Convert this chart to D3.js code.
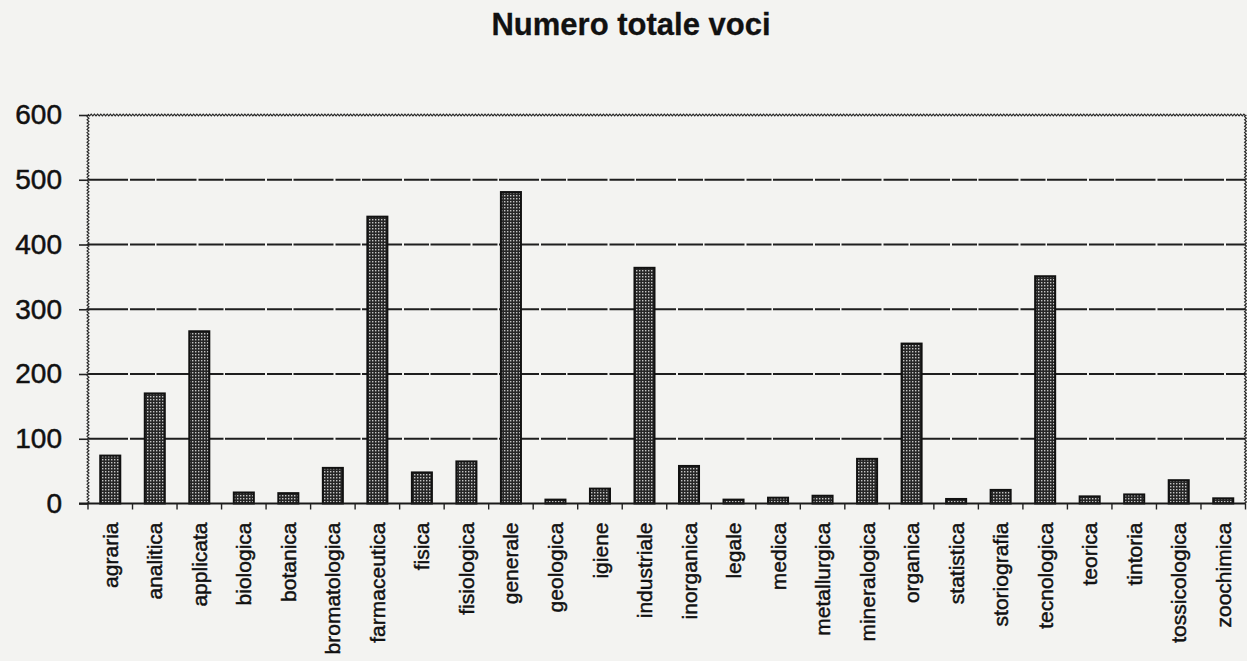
<!DOCTYPE html>
<html>
<head>
<meta charset="utf-8">
<script src="https://cdn.jsdelivr.net/npm/d3@7"></script>
<style>
  html, body { margin: 0; padding: 0; background: #f3f3f1; }
  svg { display: block; }
  text { font-family: "Liberation Sans", Arial, Helvetica, sans-serif; fill: #111; }
</style>
</head>
<body>
<svg id="chart" width="1247" height="661"></svg>
<script>
// Voci per disciplina
const categories = [
  "agraria", "analitica", "applicata", "biologica", "botanica", "bromatologica",
  "farmaceutica", "fisica", "fisiologica", "generale", "geologica", "igiene",
  "industriale", "inorganica", "legale", "medica", "metallurgica", "mineralogica",
  "organica", "statistica", "storiografia", "tecnologica", "teorica", "tintoria",
  "tossicologica", "zoochimica"
];
const values = [
  74, 170, 266, 17, 16, 55,
  443, 48, 65, 481, 6, 23,
  364, 58, 6, 9, 12, 69,
  247, 7, 21, 351, 11, 14,
  36, 8
];
const yTicks = [0, 100, 200, 300, 400, 500, 600];
const title = "Numero totale voci";

const svg = d3.select("#chart");
const plot = { left: 88, right: 1245.5, top: 115, bottom: 503.5 };

// stippled fill for the bars
const defs = svg.append("defs");
const pat = defs.append("pattern")
  .attr("id", "stipple")
  .attr("patternUnits", "userSpaceOnUse")
  .attr("width", 3).attr("height", 3);
pat.append("rect").attr("width", 3).attr("height", 3).attr("fill", "#262626");
pat.append("rect").attr("x", 0).attr("y", 0).attr("width", 1.4).attr("height", 1.4).attr("fill", "#c4c4c4");

const x = d3.scaleBand()
  .domain(categories)
  .range([plot.left, plot.right])
  .paddingInner(0.55)
  .paddingOuter(0.275);

const y = d3.scaleLinear()
  .domain([0, 600])
  .range([plot.bottom, plot.top]);

// title
svg.append("text")
  .attr("x", 631).attr("y", 35)
  .attr("text-anchor", "middle")
  .attr("font-size", 31)
  .attr("font-weight", "bold")
  .attr("stroke", "#111").attr("stroke-width", 0.3)
  .text(title);

// horizontal gridlines
svg.append("g")
  .selectAll("line")
  .data(yTicks.filter(t => t > 0 && t < 600))
  .join("line")
  .attr("x1", plot.left).attr("x2", plot.right)
  .attr("y1", d => y(d)).attr("y2", d => y(d))
  .attr("stroke", "#1e1e1e")
  .attr("stroke-width", 1.8)
  .attr("stroke-dasharray", "40 2 25 1.5");

// wavy frame on top, left and right edges
function zigzag(x0, y0, x1, y1) {
  const len = Math.hypot(x1 - x0, y1 - y0);
  const n = Math.round(len / 1.6);
  const ux = (x1 - x0) / len, uy = (y1 - y0) / len;
  const pts = d3.range(n + 1).map(i => {
    const t = i / n, s = (i % 2 ? 1 : -1) * 0.9;
    return [x0 + (x1 - x0) * t - uy * s, y0 + (y1 - y0) * t + ux * s];
  });
  return d3.line()(pts);
}
const frame = svg.append("g")
  .attr("fill", "none")
  .attr("stroke", "#2a2a2a")
  .attr("stroke-width", 1.2);
frame.append("path").attr("d", zigzag(plot.left, y(600), plot.right, y(600)));
frame.append("path").attr("d", zigzag(plot.left, y(600), plot.left, y(0)));
frame.append("path").attr("d", zigzag(plot.right, y(600), plot.right, y(0)));

// y axis
const yAxis = d3.axisLeft(y)
  .tickValues(yTicks)
  .tickSize(9)
  .tickPadding(17)
  .tickFormat(d3.format("d"));
const gy = svg.append("g")
  .attr("transform", `translate(${plot.left},0)`)
  .call(yAxis);
gy.select(".domain").remove();
gy.selectAll(".tick line").attr("stroke", "#222").attr("stroke-width", 1.6);
gy.selectAll(".tick text")
  .attr("font-size", 28)
  .attr("font-family", "Liberation Sans, Arial, sans-serif")
  .attr("fill", "#111")
  .attr("stroke", "#111").attr("stroke-width", 0.5);

// bars
svg.append("g")
  .selectAll("rect")
  .data(categories.map((c, i) => ({ c, v: values[i] })))
  .join("rect")
  .attr("x", d => x(d.c))
  .attr("y", d => y(d.v))
  .attr("width", x.bandwidth())
  .attr("height", d => y(0) - y(d.v))
  .attr("fill", "url(#stipple)")
  .attr("stroke", "#111")
  .attr("stroke-width", 2);

// category axis with ticks between the bands
const step = x.step();
const boundaries = d3.range(categories.length + 1).map(i => plot.left + i * step);
const gx = svg.append("g");
gx.append("line")
  .attr("x1", plot.left - 9).attr("x2", plot.right)
  .attr("y1", y(0)).attr("y2", y(0))
  .attr("stroke", "#1a1a1a").attr("stroke-width", 2);
gx.selectAll("line.tk")
  .data(boundaries)
  .join("line")
  .attr("class", "tk")
  .attr("x1", d => d).attr("x2", d => d)
  .attr("y1", y(0)).attr("y2", y(0) + 6)
  .attr("stroke", "#222").attr("stroke-width", 1.4);

gx.selectAll("text")
  .data(categories)
  .join("text")
  .attr("transform", d => `translate(${x(d) + x.bandwidth() / 2},${y(0) + 19}) rotate(-90)`)
  .attr("text-anchor", "end")
  .attr("dy", "0.36em")
  .attr("font-size", 21)
  .attr("stroke", "#111").attr("stroke-width", 0.45)
  .text(d => d);
</script>
</body>
</html>
